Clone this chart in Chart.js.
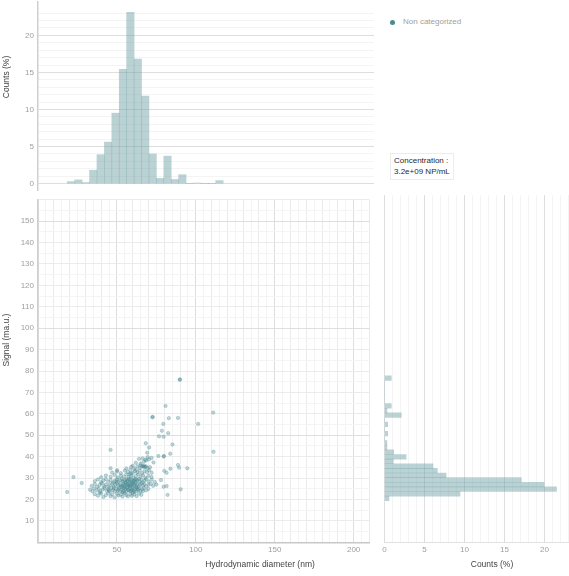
<!DOCTYPE html>
<html>
<head>
<meta charset="utf-8">
<script src="https://cdn.jsdelivr.net/npm/chart.js@4.4.1/dist/chart.umd.min.js"></script>
<style>
  html, body { margin: 0; padding: 0; background: #fff; }
  body { width: 569px; height: 576px; position: relative; overflow: hidden;
         font-family: "Liberation Sans", Arial, sans-serif; }
  canvas { position: absolute; }
  .title { position: absolute; white-space: nowrap; font-size: 8.5px; color: #444;
           transform: translate(-50%, -50%); }
  .title.rot { transform: translate(-50%, -50%) rotate(-90deg); }
  .legend { position: absolute; left: 390px; top: 17px; font-size: 8px; color: #a0a0a0; white-space: nowrap; }
  .legend .dot { display: inline-block; width: 5px; height: 5px; border-radius: 50%;
                 background: #4b8a92; margin-right: 8px; vertical-align: -0.5px; }
  .conc { position: absolute; left: 390px; top: 153px; padding: 2px 3px; border: 1px solid #ececec;
          font-size: 8px; line-height: 10.5px; color: #2a2a2a; white-space: nowrap; }
</style>
</head>
<body>
<canvas id="topHist" width="374" height="191" style="left:0px;top:0px"></canvas>
<canvas id="scatter" width="374" height="365" style="left:0px;top:195px"></canvas>
<canvas id="sideHist" width="195" height="365" style="left:374px;top:195px"></canvas>

<div class="title rot" style="left:6px;top:77px">Counts (%)</div>
<div class="title rot" style="left:6px;top:340px">Signal (ma.u.)</div>
<div class="title" style="left:260px;top:564px">Hydrodynamic diameter (nm)</div>
<div class="title" style="left:492px;top:564px">Counts (%)</div>
<div class="legend"><span class="dot"></span>Non categorized</div>
<div class="conc">Concentration :<br>3.2e+09 NP/mL</div>

<script>
// histogram of hydrodynamic diameter (nm), counts in %
const diameterBinStart = 18.3;
const diameterBinWidth = 4.64;
const diameterCounts = [0.27, 0.5, 0.14, 1.8, 3.9, 5.6, 9.5, 15.4, 23.1, 16.8, 11.8,
                        4.0, 0.7, 3.7, 0.55, 1.2, 0, 0.08, 0, 0, 0.4];

// histogram of signal (ma.u.), counts in %
const signalBinStart = 19.2;
const signalBinWidth = 2.13;
const signalCounts = [0.56, 9.44, 21.5, 19.94, 17.1, 7.7, 6.6, 6.06, 1.1, 2.7, 1.15, 0.3, 0.3, 0,
                      0.4, 0, 0.4, 0, 2.1, 0.3, 0.85, 0, 0, 0, 0, 0, 0.85];

// particles: [diameter nm, signal ma.u.]
const particles = [
  // outliers
  [80.8,63.7],[72.7,58.6],[72.5,58.4],[82.9,58],[88.7,58.1],[111,60.6],[101.5,55.3],[79.4,55.3],
  [78.5,52.1],[82.5,51],[76.7,49.5],[79.6,49.3],[68.3,46.3],[70.4,44.3],[85.2,45.7],[46,43.2],
  [69.2,41.9],[83.8,41.4],[76.3,40.3],[79.8,40.3],[79.6,40.1],[111.2,42.3],[66.3,39.2],[70.3,38.8],
  [68.5,38.2],[73.2,37.3],[88.7,36.1],[89.4,34.9],[94.6,34.6],[83.9,34.4],[80,33.4],[81.5,32.5],
  [77.9,29.1],[79.6,26],[81.5,26.3],[90.4,24.8],[82.1,22.2],[46,34.6],[22.5,30.5],[27.7,27.7],
  [18.5,23.5],[50.2,33.7],[90,76.1],[89.8,75.9],
  // 20 - 23.5
  [36,22.5],[38,21.8],[40,22.8],[41.5,21.2],[43,22.1],[44.5,23],[46,21.6],[47,22.4],[48.5,21],
  [50,22.7],[51,21.9],[52.5,22.3],[53.5,21.4],[55,22.9],[56,22.1],[57,21.5],[58.5,22.6],[59.5,21.8],
  [61,22.4],[62.5,21.6],[64,22.8],[65.5,22.2],[39,23.2],[54,23.3],[60,23.1],
  // 23.5 - 25.6
  [33,24.6],[34.5,23.9],[35.5,25.2],[37,24.3],[38.5,25],[39.5,23.8],[41,24.7],[42,25.4],[43.5,24.1],
  [44.5,24.9],[45.5,23.7],[46.5,25.3],[47.5,24.4],[48.5,23.9],[49.5,25.1],[50.5,24.2],[51.5,25.5],
  [52,23.8],[53,24.7],[54,25.2],[54.5,24],[55.5,24.8],[56,23.7],[56.5,25.4],[57.5,24.3],[58,25],
  [58.5,23.9],[59.5,24.6],[60,25.3],[60.5,24.1],[61.5,24.9],[62,23.8],[62.5,25.5],[63.5,24.4],
  [64,25.1],[65,24],[66,24.8],[67,25.4],[68.5,24.3],[70,25],[57,24.5],[55,25.5],[59,24.2],[61,23.6],
  [53.5,23.6],[51,24.6],[48,25.4],[45,24.3],[63,24.8],[66.5,23.9],
  // 25.6 - 27.7
  [34,26.4],[36,27.2],[37.5,26],[39,26.8],[40.5,27.5],[42,26.2],[43,27],[44.5,25.9],[45.5,26.7],
  [47,27.4],[48,26.1],[49,26.9],[50,27.6],[51,26.3],[52,27.1],[53,25.8],[53.5,26.6],[54.5,27.4],
  [55,26.2],[56,27],[56.5,25.9],[57.5,26.7],[58,27.5],[58.5,26.3],[59.5,27.2],[60,26],[61,26.8],
  [61.5,27.6],[62.5,26.4],[63,27.3],[64,26.1],[64.5,26.9],[65.5,27.6],[66.5,26.5],[67.5,27.2],
  [68.5,26.2],[70,26.9],[71.5,27.4],[73,26.4],[75,27],[57,26.9],[59,26.6],[55.5,27.6],[60.5,27.3],
  [52.5,26.5],[62,25.9],[58,26.1],[54,26.4],
  // 27.7 - 29.8
  [36,28.6],[38,29.4],[40,28.1],[41.5,28.9],[43,29.6],[44.5,28.3],[46,29.1],[47.5,27.9],[48.5,28.7],
  [50,29.5],[51,28.2],[52,29],[53,29.7],[54,28.4],[55,29.2],[55.5,28],[56.5,28.8],[57.5,29.6],
  [58,28.3],[59,29.1],[60,27.9],[60.5,28.7],[61.5,29.5],[62,28.2],[63,29],[64,29.7],[64.5,28.4],
  [65.5,29.2],[66.5,28],[67.5,28.9],[68.5,29.6],[70,28.5],[72,29.3],[74,28.2],[57,28.5],[59.5,28.4],
  [61,28.9],[56,29.5],[53.5,28.6],[62.5,29.4],[58.5,29.8],[49.5,28.4],
  // 29.8 - 32
  [40,30.4],[43,31.2],[46,30.6],[48.5,31.5],[50.5,30.3],[52.5,31.1],[54.5,30.7],[56,31.7],[57.5,30.5],
  [59,31.3],[60.5,30.2],[62,31],[63.5,31.8],[65,30.6],[66.5,31.4],[68,30.2],[70,31.1],[72,30.5],[58,31.9],
  // 32 - 34
  [47,32.6],[50,33.1],[52.5,32.3],[55,33.5],[57,32.8],[58.5,33.8],[60,32.4],[61.5,33.2],[63,32.7],
  [64.5,33.6],[66,32.3],[67.5,33.3],[69,32.8],[70.5,33.7],[72,32.5],[62,33.9],[59,32.2],
  // 34 - 36
  [56,34.5],[59,35.2],[61,34.4],[63,35.6],[64.5,34.8],[66,35.4],[66.5,35.7],[67,35.3],[67.5,35.6],
  [68,35.2],[68.5,35.5],[69.5,34.6],[71,35.1],[60,35.8],[65,36],
  // 36 - 41
  [62,37.2],[65,36.8],[67,37.6],[64,39],[68,38.6],[69.5,39.8],[72,39.4]
];

const BAR_FILL = 'rgba(110, 160, 165, 0.48)';
const TICK_COLOR = '#9e9e9e';

Chart.defaults.font.family = '"Liberation Sans", Arial, sans-serif';
Chart.defaults.font.size = 8;
Chart.defaults.color = TICK_COLOR;

const noPlugins = { legend: { display: false }, tooltip: { enabled: false } };

// grid colour by tick value: major / medium / minor
function gridShade(major, medium) {
  return (ctx) => {
    const v = ctx.tick ? ctx.tick.value : 0;
    if (!Number.isInteger(v)) return 'rgba(0,0,0,0)';
    if (v % major === 0) return '#dedede';
    if (medium && v % medium === 0) return '#ebebeb';
    return '#f4f4f4';
  };
}

// fixed axis sizes, no label overhang padding, so the three plots line up
function fixWidth(w) {
  return (s) => { s.width = w; s.paddingTop = 0; s.paddingBottom = 0; };
}
function fixHeight(h) {
  return (s) => { s.height = h; s.paddingLeft = 0; s.paddingRight = 0; };
}

// top histogram
new Chart(document.getElementById('topHist'), {
  type: 'bar',
  data: {
    datasets: [{
      data: diameterCounts.map((c, i) => ({ x: diameterBinStart + diameterBinWidth * (i + 0.5), y: c })),
      backgroundColor: BAR_FILL,
      borderWidth: 0,
      barPercentage: 1,
      categoryPercentage: 1
    }]
  },
  options: {
    responsive: false,
    animation: false,
    devicePixelRatio: 1,
    layout: { padding: { top: 2, left: 0, right: 0, bottom: 0 } },
    plugins: noPlugins,
    scales: {
      x: { type: 'linear', min: 0, max: 210, offset: false, display: false, grid: { offset: false } },
      y: {
        min: -1, max: 24.5,
        afterFit: fixWidth(38),
        ticks: { stepSize: 1, padding: 4, autoSkip: false,
                 callback: (v) => (v >= 0 && v % 5 === 0 ? v : '') },
        grid: { drawTicks: false, color: gridShade(5) },
        border: { display: true, color: '#cfcfcf', width: 1.5 }
      }
    }
  }
});

// scatter of signal vs diameter
new Chart(document.getElementById('scatter'), {
  type: 'scatter',
  data: {
    datasets: [{
      data: particles.map(([x, y]) => ({ x, y })),
      pointRadius: 1.7,
      pointBorderWidth: 0.6,
      pointBackgroundColor: 'rgba(75, 138, 146, 0.35)',
      pointBorderColor: 'rgba(75, 138, 146, 0.5)'
    }]
  },
  options: {
    responsive: false,
    animation: false,
    devicePixelRatio: 1,
    layout: { padding: 0 },
    plugins: noPlugins,
    scales: {
      x: {
        min: 0, max: 210,
        afterFit: fixHeight(17.6),
        ticks: { stepSize: 5, padding: 3, autoSkip: false, maxRotation: 0,
                 callback: (v) => (v > 0 && v % 50 === 0 ? v : '') },
        grid: { drawTicks: false, color: gridShade(50, 10) },
        border: { display: true, color: '#c8c8c8', width: 1.5 }
      },
      y: {
        min: 0, max: 160,
        afterFit: fixWidth(38),
        ticks: { stepSize: 5, padding: 4, autoSkip: false,
                 callback: (v) => (v > 0 && v < 160 && v % 10 === 0 ? v : '') },
        grid: { drawTicks: false, color: gridShade(50, 10) },
        border: { display: true, color: '#cfcfcf', width: 1.5 }
      }
    }
  }
});

// side histogram of signal
new Chart(document.getElementById('sideHist'), {
  type: 'bar',
  data: {
    datasets: [{
      data: signalCounts.map((c, i) => ({ y: signalBinStart + signalBinWidth * (i + 0.5), x: c })),
      backgroundColor: BAR_FILL,
      borderWidth: 0,
      barPercentage: 1,
      categoryPercentage: 1
    }]
  },
  options: {
    indexAxis: 'y',
    responsive: false,
    animation: false,
    devicePixelRatio: 1,
    layout: { padding: { left: 10.5, right: 0.5, top: 0, bottom: 0 } },
    plugins: noPlugins,
    scales: {
      y: { type: 'linear', min: 0, max: 160, offset: false, display: false, grid: { offset: false } },
      x: {
        type: 'linear', min: 0, max: 23,
        afterFit: fixHeight(17.6),
        ticks: { stepSize: 1, padding: 3, autoSkip: false, maxRotation: 0,
                 callback: (v) => (v % 5 === 0 ? v : '') },
        grid: { drawTicks: false, color: gridShade(5) },
        border: { display: true, color: '#e2e2e2', width: 1 }
      }
    }
  }
});
</script>
</body>
</html>
